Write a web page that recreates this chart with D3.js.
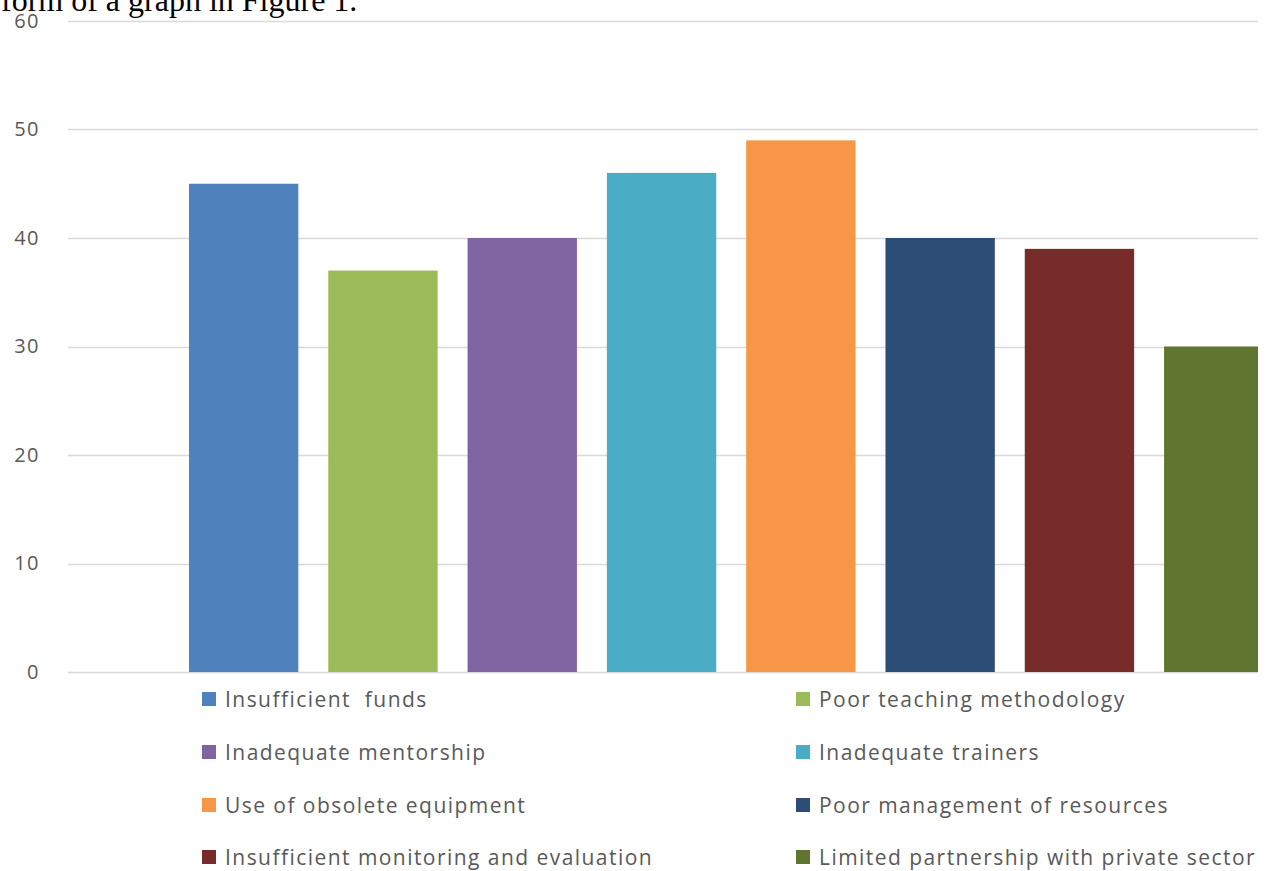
<!DOCTYPE html>
<html>
<head>
<meta charset="utf-8">
<script src="https://cdn.jsdelivr.net/npm/d3@7"></script>
<style>
  html, body { margin: 0; padding: 0; background: #fff; overflow: hidden; }
</style>
</head>
<body>
<div id="content"></div>
<script>
const width = 1271;
const height = 871;

// data
const categories = [
  'Insufficient  funds',
  'Poor teaching methodology',
  'Inadequate mentorship',
  'Inadequate trainers',
  'Use of obsolete equipment',
  'Poor management of resources',
  'Insufficient monitoring and evaluation',
  'Limited partnership with private sector'
];
const values = [45, 37, 40, 46, 49, 40, 39, 30];
const colors = ['#4F81BD', '#9BBB59', '#8064A2', '#4BACC6', '#F79646', '#2C4D75', '#772C2A', '#5F7530'];
const yTicks = [0, 10, 20, 30, 40, 50, 60];

const grid = '#D9D9D9';
const tickGrey = '#595959';

const svg = d3.select('#content')
  .append('svg')
  .attr('width', width)
  .attr('height', height);

// cut-off line of body text above the figure
svg.append('text')
  .attr('x', 1)
  .attr('y', 11)
  .attr('font-family', '"Liberation Serif", serif')
  .attr('font-size', 32)
  .attr('fill', '#000')
  .text('form of a graph in Figure 1.');

const plotLeft = 68;
const plotRight = 1258;

const y = d3.scaleLinear()
  .domain([0, 60])
  .range([672, 21]);

const x = d3.scaleBand()
  .domain(categories)
  .range([174, 1288.4])
  .paddingInner(0.215)
  .paddingOuter(0.1075);

svg.append('defs')
  .append('clipPath')
  .attr('id', 'plot-clip')
  .append('rect')
  .attr('x', plotLeft)
  .attr('y', 0)
  .attr('width', plotRight - plotLeft)
  .attr('height', height);

// gridlines
svg.append('g')
  .selectAll('line')
  .data(yTicks)
  .enter()
  .append('line')
  .attr('x1', plotLeft)
  .attr('x2', plotRight)
  .attr('y1', d => Math.round(y(d)) + 0.5)
  .attr('y2', d => Math.round(y(d)) + 0.5)
  .attr('stroke', grid)
  .attr('stroke-width', 1.3);

// y tick labels
const yAxis = svg.append('g')
  .attr('transform', 'translate(40,0)')
  .call(d3.axisLeft(y).tickValues(yTicks).tickSize(0).tickPadding(0));
yAxis.select('.domain').remove();
yAxis.selectAll('text')
  .attr('font-family', '"Open Sans", sans-serif')
  .attr('font-size', 20)
  .attr('letter-spacing', 1.5)
  .attr('fill', tickGrey);

// bars
svg.append('g')
  .attr('clip-path', 'url(#plot-clip)')
  .selectAll('rect')
  .data(categories)
  .enter()
  .append('rect')
  .attr('x', d => x(d))
  .attr('y', (d, i) => y(values[i]))
  .attr('width', x.bandwidth())
  .attr('height', (d, i) => y(0) - y(values[i]))
  .attr('fill', (d, i) => colors[i]);

// legend, two columns
const legendCols = [202, 796];
const legendRows = [699, 752, 805, 857];
const legend = svg.append('g')
  .selectAll('g')
  .data(categories)
  .enter()
  .append('g')
  .attr('transform', (d, i) => `translate(${legendCols[i % 2]},${legendRows[Math.floor(i / 2)]})`);

legend.append('rect')
  .attr('x', 0)
  .attr('y', -7)
  .attr('width', 14)
  .attr('height', 14)
  .attr('fill', (d, i) => colors[i]);

legend.append('text')
  .attr('x', 23)
  .attr('y', 0)
  .attr('dy', '0.36em')
  .attr('font-family', '"Open Sans", sans-serif')
  .attr('font-size', 21)
  .attr('letter-spacing', 1.45)
  .attr('fill', tickGrey)
  .style('white-space', 'pre')
  .text(d => d);
</script>
</body>
</html>
